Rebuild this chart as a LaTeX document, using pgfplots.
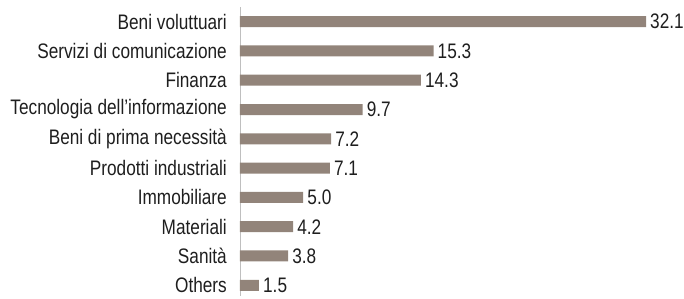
\documentclass[border=0pt]{standalone}
\usepackage{pgfplots}
\pgfplotsset{compat=1.18}
\usepackage{fontspec}
\setmainfont[FakeStretch=0.82]{Liberation Sans}
\definecolor{barc}{RGB}{146,132,122}
\definecolor{txt}{RGB}{30,30,30}
\begin{document}
\fontsize{21pt}{24pt}\selectfont
\begin{tikzpicture}
\useasboundingbox (-240pt,-2.5pt) rectangle (444pt,295.5pt);
\begin{axis}[
  at={(0,0)}, anchor=south west,
  scale only axis,
  width=406pt, height=288.5pt,
  xbar, bar width=11pt,
  xmin=0, xmax=32.1,
  ymin=-0.5, ymax=9.35,
  y dir=reverse,
  hide x axis,
  axis y line*=left,
  y axis line style={draw=black!25, line width=0.8pt, -},
  ytick={0,...,9},
  yticklabels={Beni voluttuari,Servizi di comunicazione,Finanza,Tecnologia dell\symbol{39}informazione,Beni di prima necessità,Prodotti industriali,Immobiliare,Materiali,Sanità,Others},
  major tick length=0pt,
  ytick style={draw=none},
  yticklabel style={font=\fontsize{21pt}{24pt}\selectfont, text=txt, inner sep=0pt, xshift=-13pt, anchor=east},
  clip=false,
  nodes near coords,
  nodes near coords style={font=\fontsize{21pt}{24pt}\selectfont, text=txt, anchor=west, inner sep=0pt, xshift=4pt, /pgf/number format/.cd, fixed, fixed zerofill, precision=1, assume math mode=true},
]
\addplot[fill=barc, draw=none] coordinates {
(32.1,0) (15.3,1) (14.3,2) (9.7,3) (7.2,4) (7.1,5) (5.0,6) (4.2,7) (3.8,8) (1.5,9)};
\end{axis}
\end{tikzpicture}
\end{document}
